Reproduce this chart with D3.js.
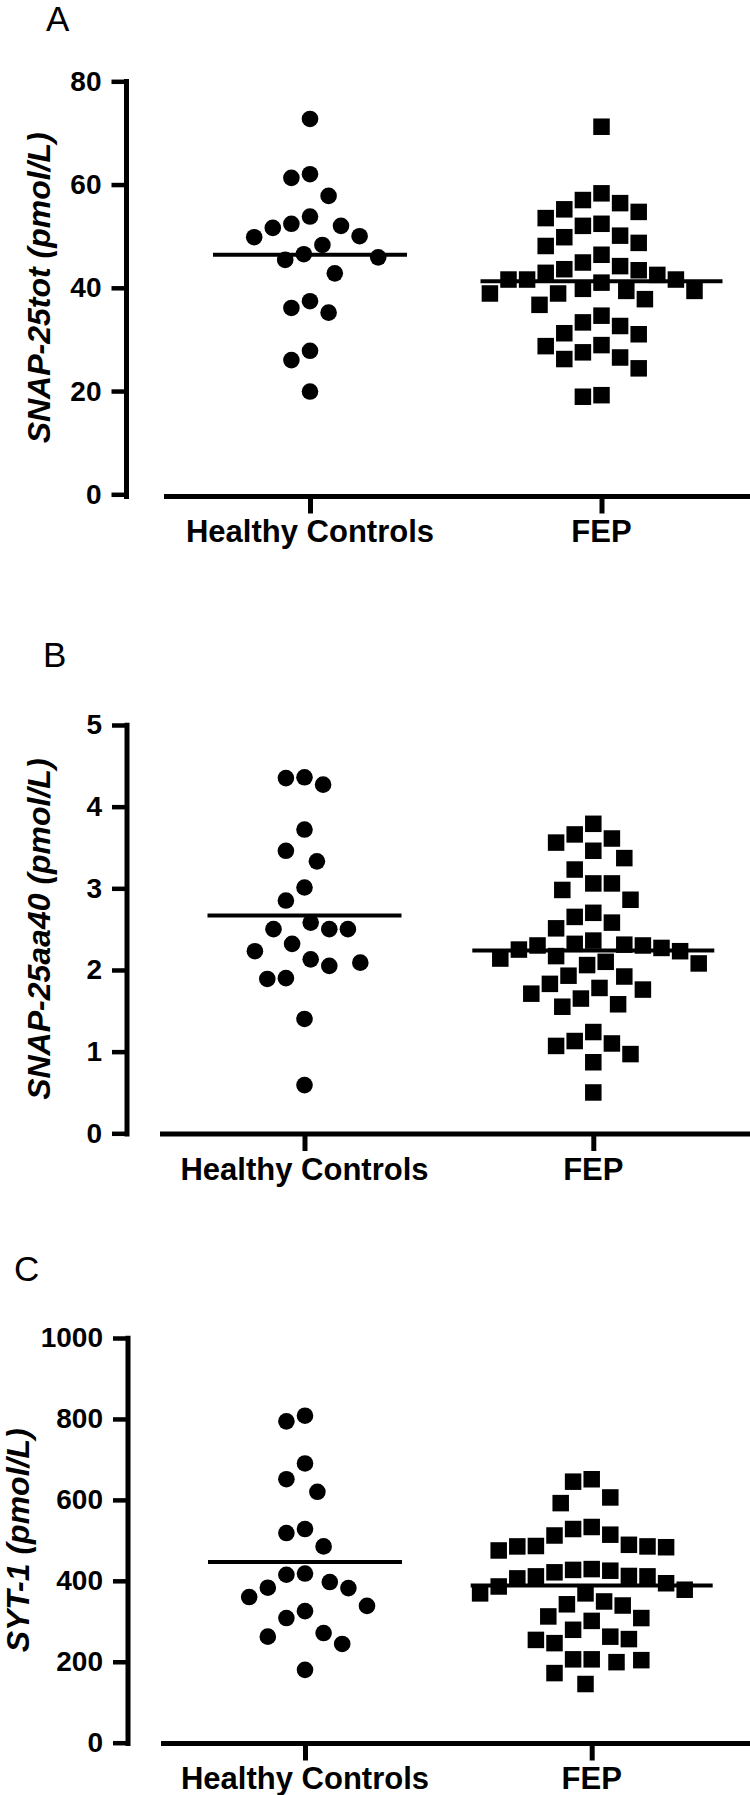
<!DOCTYPE html>
<html>
<head>
<meta charset="utf-8">
<script src="https://cdn.jsdelivr.net/npm/d3@7"></script>
<style>
  html, body { margin: 0; padding: 0; background: #fff; }
  svg { display: block; }
  text { font-family: "Liberation Sans", Arial, Helvetica, sans-serif; fill: #000; }
</style>
</head>
<body>
<svg id="chart" width="750" height="1795"></svg>
<script>
// ---------------- DATA ----------------
const categories = ["Healthy Controls", "FEP"];
const panelLetters = ["A", "B", "C"];
const yLabels = ["SNAP-25tot (pmol/L)", "SNAP-25aa40 (pmol/L)", "SYT-1 (pmol/L)"];

const ticksA = [0, 20, 40, 60, 80];
const ticksB = [0, 1, 2, 3, 4, 5];
const ticksC = [0, 200, 400, 600, 800, 1000];

const snap25totHC = [72.7, 61.3, 62.0, 57.8, 53.8, 52.0, 51.6, 52.4, 50.0, 49.8, 48.3,
  46.5, 45.4, 45.9, 42.8, 37.4, 35.2, 36.1, 27.8, 26.0, 19.9];
const snap25totFEP = [71.2, 57.0, 58.3, 55.2, 56.4, 52.4, 53.5, 54.7, 52.0, 50.1, 48.7,
  48.1, 49.8, 44.9, 46.4, 43.6, 42.9, 41.6, 42.5, 43.4, 44.2, 41.6, 41.0, 41.6, 39.4,
  38.9, 37.8, 36.7, 38.9, 39.4, 39.8, 34.6, 32.6, 31.0, 31.2, 33.3, 28.9, 27.5, 26.2,
  24.4, 26.5, 28.7, 18.9, 19.2];

const snap25aa40HC = [4.36, 4.27, 4.35, 3.72, 3.46, 3.33, 3.01, 2.85, 2.50, 2.58, 2.50,
  2.50, 2.32, 2.13, 2.23, 2.05, 2.09, 1.89, 1.90, 1.40, 0.59];
const snap25aa40FEP = [3.79, 3.66, 3.56, 3.61, 3.46, 3.37, 3.23, 3.06, 3.06, 2.98, 2.86,
  2.70, 2.58, 2.65, 2.51, 2.36, 2.31, 2.30, 2.25, 2.23, 2.27, 2.30, 2.32, 2.17, 2.10,
  2.06, 2.08, 2.14, 1.92, 1.93, 1.83, 1.76, 1.65, 1.71, 1.78, 1.55, 1.58, 1.24, 1.10,
  0.97, 0.87, 1.07, 1.13, 0.50];

const syt1HC = [808, 794, 690, 651, 620, 528, 518, 485, 415, 418, 382, 383, 397, 360,
  338, 325, 308, 262, 271, 244, 180];
const syt1FEP = [645, 651, 592, 606, 533, 514, 489, 485, 483, 475, 485, 486, 512, 528,
  427, 421, 411, 406, 411, 412, 425, 429, 386, 369, 369, 378, 394, 339, 349, 342,
  308, 301, 312, 279, 262, 254, 246, 256, 199, 206, 206, 204, 172, 145];

// ---------------- LAYOUT ----------------
const panels = [
  { letter: panelLetters[0], label: yLabels[0], ticks: ticksA, hc: snap25totHC, fep: snap25totFEP,
    axisX: 126.5, yTop: 81.3, yBot: 494.3, xAxisY: 496.5, xStart: 164, xEnd: 750,
    catX: [310, 601.5], letterPos: [46, 31], labelX: 50, catLabelY: 542 },
  { letter: panelLetters[1], label: yLabels[1], ticks: ticksB, hc: snap25aa40HC, fep: snap25aa40FEP,
    axisX: 127, yTop: 725, yBot: 1133.3, xAxisY: 1134, xStart: 160, xEnd: 750,
    catX: [304.5, 593.3], letterPos: [43, 667], labelX: 50, catLabelY: 1180 },
  { letter: panelLetters[2], label: yLabels[2], ticks: ticksC, hc: syt1HC, fep: syt1FEP,
    axisX: 128, yTop: 1338, yBot: 1742.7, xAxisY: 1743.5, xStart: 161, xEnd: 750,
    catX: [305, 591.7], letterPos: [14, 1281], labelX: 29, catLabelY: 1789 }
];

const svg = d3.select("#chart");

// column-scatter layout: spread points sideways so neighbours in value do not collide.
// k < 1 stretches the vertical exclusion zone so close values fan out into rows.
function swarm(values, y, step, minDist, k) {
  const pts = values.map(v => ({ v, y: y(v), x: 0 }));
  const order = pts.slice().sort((a, b) => a.y - b.y);
  const placed = [];
  for (const p of order) {
    for (let n = 0; n < 400; n++) {
      const off = n === 0 ? 0 : (n % 2 ? -1 : 1) * Math.ceil(n / 2) * step;
      const ok = placed.every(q => Math.hypot(q.x - off, (q.y - p.y) * k) >= minDist);
      if (ok) { p.x = off; break; }
    }
    placed.push(p);
  }
  return pts;
}

panels.forEach(P => {
  const g = svg.append("g");
  const yMax = P.ticks[P.ticks.length - 1];
  const y = d3.scaleLinear().domain([0, yMax]).range([P.yBot, P.yTop]);
  const x = d3.scaleOrdinal().domain(categories).range(P.catX);

  // panel letter
  g.append("text").attr("x", P.letterPos[0]).attr("y", P.letterPos[1])
    .attr("font-size", 35).text(P.letter);

  // y axis
  const yAxis = d3.axisLeft(y).tickValues(P.ticks).tickSize(15).tickPadding(10)
    .tickFormat(d3.format("d"));
  const ya = g.append("g").attr("transform", `translate(${P.axisX},0)`).call(yAxis);
  ya.select(".domain").remove();
  ya.selectAll(".tick line").attr("stroke", "#000").attr("stroke-width", 4.5);
  ya.selectAll(".tick text").attr("font-size", 28).attr("font-weight", "bold")
    .attr("font-family", "'Liberation Sans', Arial, sans-serif").attr("fill", "#000");
  g.append("line").attr("x1", P.axisX).attr("x2", P.axisX)
    .attr("y1", P.yTop - 2.25).attr("y2", P.xAxisY + 2.5)
    .attr("stroke", "#000").attr("stroke-width", 5);

  // x axis
  g.append("line").attr("x1", P.xStart).attr("x2", P.xEnd)
    .attr("y1", P.xAxisY).attr("y2", P.xAxisY)
    .attr("stroke", "#000").attr("stroke-width", 5);
  const xAxis = d3.axisBottom(x).tickSize(17).tickPadding(0);
  const xa = g.append("g").attr("transform", `translate(0,${P.xAxisY})`).call(xAxis);
  xa.select(".domain").remove();
  xa.selectAll(".tick line").attr("stroke", "#000").attr("stroke-width", 5);
  xa.selectAll(".tick text").remove();
  categories.forEach(c => {
    g.append("text").attr("x", x(c)).attr("y", P.catLabelY)
      .attr("text-anchor", "middle").attr("font-size", 31).attr("font-weight", "bold")
      .text(c);
  });

  // y label
  g.append("text")
    .attr("transform", `translate(${P.labelX},${(P.yTop + P.yBot) / 2}) rotate(-90)`)
    .attr("text-anchor", "middle").attr("font-size", 32).attr("font-weight", "bold")
    .attr("font-style", "italic").text(P.label);

  // points
  const hcPts = swarm(P.hc, y, 6.2, 18, 0.5);
  g.selectAll(null).data(hcPts).enter().append("circle")
    .attr("cx", d => x(categories[0]) + d.x).attr("cy", d => d.y)
    .attr("r", 8.3).attr("fill", "#000");

  const sq = 16.5;
  const fepPts = swarm(P.fep, y, 6.2, 18.5, 0.72);
  g.selectAll(null).data(fepPts).enter().append("rect")
    .attr("x", d => x(categories[1]) + d.x - sq / 2).attr("y", d => d.y - sq / 2)
    .attr("width", sq).attr("height", sq).attr("fill", "#000");

  // mean lines
  const means = [
    { c: categories[0], m: d3.mean(P.hc), hw: 97 },
    { c: categories[1], m: d3.mean(P.fep), hw: 121 }
  ];
  g.selectAll(null).data(means).enter().append("line")
    .attr("x1", d => x(d.c) - d.hw).attr("x2", d => x(d.c) + d.hw)
    .attr("y1", d => y(d.m)).attr("y2", d => y(d.m))
    .attr("stroke", "#000").attr("stroke-width", 4);
});
</script>
</body>
</html>
